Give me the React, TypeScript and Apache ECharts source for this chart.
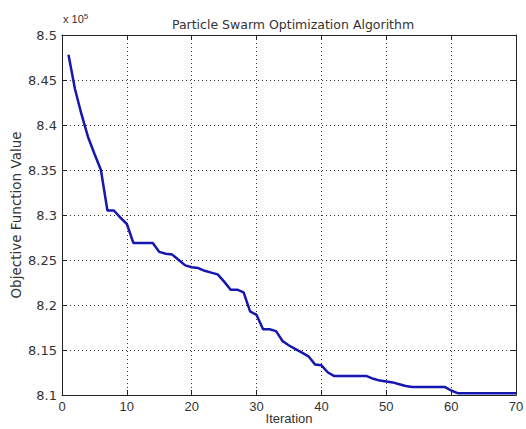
import React, { useEffect, useRef } from "react";
import * as echarts from "echarts";

const iterations: number[] = Array.from({ length: 70 }, (_, i) => i + 1);
// Objective function values, in units of 10^5
const objectiveValues: number[] = [
  8.478, 8.44, 8.412, 8.387, 8.368, 8.35, 8.305, 8.305, 8.297, 8.29,
  8.269, 8.269, 8.269, 8.269, 8.259, 8.257, 8.256, 8.25, 8.244, 8.242,
  8.241, 8.238, 8.236, 8.234, 8.226, 8.217, 8.217, 8.214, 8.193, 8.189,
  8.173, 8.173, 8.171, 8.16, 8.155, 8.151, 8.147, 8.143, 8.134, 8.133,
  8.125, 8.121, 8.121, 8.121, 8.121, 8.121, 8.121, 8.118, 8.116, 8.115,
  8.114, 8.112, 8.11, 8.109, 8.109, 8.109, 8.109, 8.109, 8.109, 8.105,
  8.102, 8.102, 8.102, 8.102, 8.102, 8.102, 8.102, 8.102, 8.102, 8.102,
];
const titleText = "Particle Swarm Optimization Algorithm";
const xName = "Iteration";
const yName = "Objective Function Value";

export default function App() {
  const ref = useRef<HTMLDivElement>(null);
  useEffect(() => {
    if (!ref.current) return;
    const chart = echarts.init(ref.current, null, { renderer: "svg" });
    const arial = "Liberation Sans, Arial, sans-serif";
    const dejavu = "DejaVu Sans, sans-serif";
    const txt = "#333";
    const grid = { left: 62, right: 10, top: 35, bottom: 34, containLabel: false, outerBoundsMode: "none" };
    const gridLine = { show: true, lineStyle: { color: "#333", width: 1, type: [1, 3] as any } };
    chart.setOption({
      animation: false,
      backgroundColor: "#fff",
      textStyle: { fontFamily: arial },
      title: {
        text: titleText,
        left: 288,
        textAlign: "center",
        top: 13,
        textStyle: { fontSize: 12.5, fontWeight: "normal", color: txt, fontFamily: dejavu },
      },
      graphic: [
        {
          type: "text",
          left: 63,
          top: 12,
          style: {
            text: "x 10{s|5}",
            fontSize: 11,
            fill: txt,
            fontFamily: arial,
            rich: { s: { fontSize: 8, verticalAlign: "top", padding: [0, 0, 6, 0], fontFamily: arial, fill: txt } },
          } as any,
        },
      ],
      grid,
      xAxis: [
        {
          type: "value",
          min: 0,
          max: 70,
          interval: 10,
          name: xName,
          nameLocation: "middle",
          nameGap: 17,
          nameMoveOverlap: false,
          nameTextStyle: { fontSize: 13, color: txt, fontFamily: arial },
          axisLine: { show: true, onZero: false, lineStyle: { color: "#222", width: 1 } },
          axisTick: { show: true, inside: true, length: 5, lineStyle: { color: "#222" } },
          axisLabel: { fontSize: 13, color: txt, margin: 5, fontFamily: arial },
          splitLine: gridLine,
        },
        {
          type: "value",
          position: "top",
          min: 0,
          max: 70,
          interval: 10,
          axisLine: { show: true, onZero: false, lineStyle: { color: "#222", width: 1 } },
          axisTick: { show: true, inside: true, length: 5, lineStyle: { color: "#222" } },
          axisLabel: { show: false },
          splitLine: { show: false },
        },
      ],
      yAxis: [
        {
          type: "value",
          min: 8.1,
          max: 8.5,
          interval: 0.05,
          name: yName,
          nameLocation: "middle",
          nameGap: 39,
          nameMoveOverlap: false,
          nameTextStyle: { fontSize: 13.5, color: txt, fontFamily: dejavu },
          axisLine: { show: true, onZero: false, lineStyle: { color: "#222", width: 1 } },
          axisTick: { show: true, inside: true, length: 5, lineStyle: { color: "#222" } },
          axisLabel: {
            fontSize: 13,
            color: txt,
            margin: 5,
            fontFamily: dejavu,
            formatter: (v: number) => String(+v.toFixed(2)),
          },
          splitLine: gridLine,
        },
        {
          type: "value",
          position: "right",
          min: 8.1,
          max: 8.5,
          interval: 0.05,
          axisLine: { show: true, onZero: false, lineStyle: { color: "#222", width: 1 } },
          axisTick: { show: true, inside: true, length: 5, lineStyle: { color: "#222" } },
          axisLabel: { show: false },
          splitLine: { show: false },
        },
      ],
      series: [
        {
          type: "line",
          xAxisIndex: 0,
          yAxisIndex: 0,
          data: iterations.map((it, i) => [it, objectiveValues[i]]),
          showSymbol: false,
          lineStyle: { color: "#1616b0", width: 2.5 },
        },
      ],
    });
    return () => chart.dispose();
  }, []);
  return <div ref={ref} style={{ width: 526, height: 429, position: "absolute", left: 0, top: 0 }} />;
}
